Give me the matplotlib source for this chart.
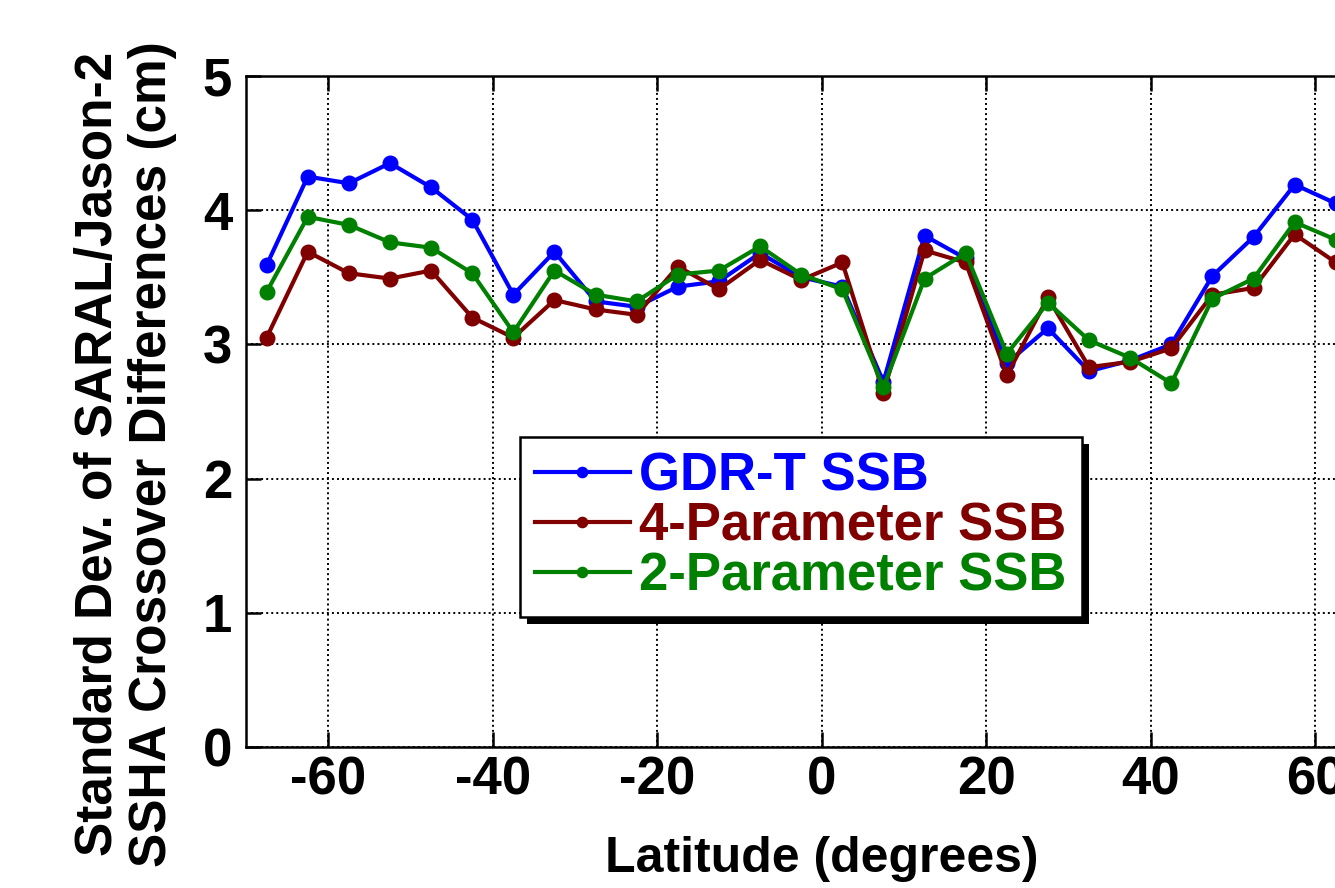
import matplotlib
matplotlib.use("Agg")
import matplotlib.pyplot as plt
from matplotlib.patches import Rectangle

plt.rcParams["font.family"] = ["Liberation Sans", "DejaVu Sans"]
plt.rcParams["font.weight"] = "bold"
plt.rcParams["axes.unicode_minus"] = False

# latitude bins (5 degree) and std dev of crossover differences (cm)
lat = [-67.5, -62.5, -57.5, -52.5, -47.5, -42.5, -37.5, -32.5, -27.5, -22.5,
       -17.5, -12.5, -7.5, -2.5, 2.5, 7.5, 12.5, 17.5, 22.5, 27.5,
       32.5, 37.5, 42.5, 47.5, 52.5, 57.5, 62.5]
gdr_t = [3.59, 4.25, 4.20, 4.35, 4.17, 3.93, 3.37, 3.69, 3.32, 3.28,
         3.43, 3.47, 3.68, 3.50, 3.43, 2.72, 3.81, 3.64, 2.86, 3.12,
         2.80, 2.88, 3.00, 3.51, 3.80, 4.19, 4.05]
four_param = [3.05, 3.69, 3.53, 3.49, 3.55, 3.20, 3.05, 3.33, 3.26, 3.22,
              3.58, 3.41, 3.63, 3.48, 3.61, 2.64, 3.70, 3.61, 2.77, 3.35,
              2.83, 2.87, 2.97, 3.37, 3.42, 3.82, 3.61]
two_param = [3.39, 3.95, 3.89, 3.76, 3.72, 3.53, 3.09, 3.55, 3.37, 3.32,
             3.52, 3.55, 3.73, 3.52, 3.41, 2.68, 3.49, 3.68, 2.93, 3.31,
             3.03, 2.90, 2.71, 3.34, 3.49, 3.91, 3.78]

labels = ["GDR-T SSB", "4-Parameter SSB", "2-Parameter SSB"]
colors = ["#0000ff", "#800000", "#008000"]
xticks = [-60, -40, -20, 0, 20, 40, 60]
yticks = [0, 1, 2, 3, 4, 5]

fig = plt.figure(figsize=(13.35, 8.88), dpi=100)
# axes runs off the right edge, as in the original crop
ax = fig.add_axes([0.1843, 0.1588, 0.8625, 0.7557])

for series, lab, col in zip([gdr_t, four_param, two_param], labels, colors):
    ax.plot(lat, series, color=col, lw=3, marker="o", ms=10.5, label=lab, zorder=3)

ax.set_xlim(-70, 70)
ax.set_ylim(0, 5)
ax.set_xticks(xticks)
ax.set_yticks(yticks)
ax.grid(True, color="black", linestyle=(0, (1, 1.6)), linewidth=1.4)
ax.tick_params(direction="in", length=11, width=1.8, top=True, right=True,
               labelsize=38)
ax.tick_params(axis="x", pad=6)
ax.tick_params(axis="y", pad=10)
for sp in ax.spines.values():
    sp.set_linewidth(1.8)

ax.set_xlabel("Latitude (degrees)", fontsize=36, fontweight="bold", labelpad=22)
fig.text(0.094, 0.489, "Standard Dev. of SARAL/Jason-2\nSSHA Crossover Differences (cm)",
         rotation=90, ha="center", va="center", multialignment="center",
         fontsize=37, fontweight="bold", linespacing=1.15)

leg = ax.legend(loc="upper left", bbox_to_anchor=(0.238, 0.462), borderaxespad=0,
                fontsize=38, frameon=True, fancybox=False, markerscale=0.7,
                handlelength=1.8, handletextpad=0.18, labelspacing=0.0,
                borderpad=0.28)
leg.get_frame().set_edgecolor("black")
leg.get_frame().set_linewidth(1.8)
leg.get_frame().set_alpha(1)
for txt, col in zip(leg.get_texts(), colors):
    txt.set_color(col)

# black drop shadow behind the legend box
fig.canvas.draw()
bb = leg.get_window_extent()
shadow = Rectangle((bb.x0 + 7, bb.y0 - 7), bb.width, bb.height, transform=None,
                   facecolor="black", edgecolor="none", zorder=4.9)
ax.add_artist(shadow)
leg.set_zorder(5)

fig.savefig("out.png", dpi=100)
